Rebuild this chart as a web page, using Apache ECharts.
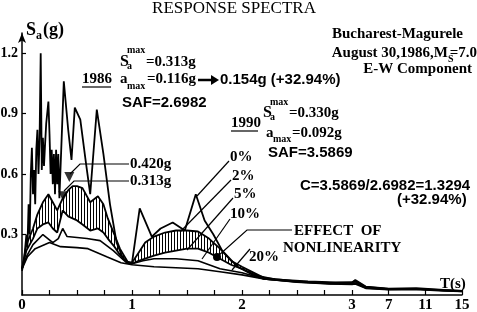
<!DOCTYPE html>
<html>
<head>
<meta charset="utf-8">
<script src="https://cdn.jsdelivr.net/npm/echarts@6/dist/echarts.min.js"></script>
<style>
html, body { margin: 0; padding: 0; background: #fff; }
#chart-container { width: 477px; height: 312px; }
</style>
</head>
<body>
<div id="chart-container"></div>
<script>
// periods T (s) and spectral accelerations Sa (g)
var t0 = [0, 0.02, 0.04, 0.05, 0.06, 0.07, 0.08, 0.09, 0.1, 0.11, 0.12, 0.13, 0.14, 0.15, 0.16, 0.17, 0.18, 0.19, 0.2, 0.21,
  0.22, 0.24, 0.25, 0.26, 0.27, 0.28, 0.29, 0.3, 0.31, 0.32, 0.33, 0.34, 0.38, 0.42, 0.45, 0.48, 0.53, 0.58, 0.62, 0.68,
  0.74, 0.8, 0.86, 0.92, 0.97, 1.0, 1.07, 1.18, 1.26, 1.37, 1.48, 1.58, 1.66, 1.74, 1.82, 1.96, 2.1, 2.3, 2.6, 2.85,
  3.0, 3.36, 4.5, 7, 10, 13, 15];
var sa0 = [0.12, 0.18, 0.3, 0.25, 0.45, 0.3, 0.6, 0.73, 0.5, 0.62, 0.45, 0.72, 0.82, 0.6, 0.78, 1.2, 0.62, 0.78, 0.64, 0.75,
  0.85, 0.96, 0.8, 0.6, 0.72, 0.55, 0.7, 0.5, 0.72, 0.55, 0.7, 0.48, 1.06, 0.82, 0.67, 0.93, 0.87, 0.66, 0.5, 0.92,
  0.7, 0.45, 0.26, 0.18, 0.16, 0.16, 0.43, 0.29, 0.33, 0.36, 0.32, 0.5, 0.37, 0.3, 0.22, 0.14, 0.1, 0.078, 0.068, 0.062,
  0.062, 0.075, 0.042, 0.032, 0.034, 0.025, 0.02];

var tBand = [0, 0.04, 0.1, 0.14, 0.19, 0.24, 0.28, 0.32, 0.37, 0.42, 0.46, 0.5, 0.55, 0.62, 0.69, 0.74, 0.78, 0.84, 0.89, 0.96,
  1.0, 1.06, 1.12, 1.2, 1.3, 1.4, 1.5, 1.6, 1.7, 1.8, 1.9, 2.0, 2.2, 2.5, 2.8, 3.0, 3.36, 4.5, 7, 10, 13, 15];
var sa2 = [0.13, 0.25, 0.33, 0.40, 0.46, 0.50, 0.46, 0.42, 0.48, 0.52, 0.54, 0.54, 0.53, 0.46, 0.49, 0.45, 0.38, 0.30, 0.23, 0.165,
  0.16, 0.21, 0.26, 0.29, 0.31, 0.32, 0.32, 0.315, 0.28, 0.23, 0.17, 0.14, 0.085, 0.068, 0.06, 0.062, 0.07, 0.04, 0.03, 0.03,
  0.024, 0.02];
var sa5 = [0.13, 0.22, 0.28, 0.33, 0.35, 0.36, 0.33, 0.31, 0.42, 0.39, 0.38, 0.37, 0.35, 0.32, 0.33, 0.31, 0.28, 0.24, 0.20, 0.16,
  0.155, 0.17, 0.18, 0.195, 0.21, 0.22, 0.23, 0.23, 0.21, 0.18, 0.15, 0.13, 0.08, 0.066, 0.058, 0.06, 0.066, 0.038, 0.029, 0.029,
  0.023, 0.019];

var t10 = [0, 0.04, 0.1, 0.19, 0.28, 0.33, 0.37, 0.41, 0.5, 0.59, 0.71, 0.83, 0.95, 1.0, 1.1, 1.2, 1.4, 1.6, 1.7, 1.8,
  1.9, 2.0, 2.2, 2.5, 2.8, 3.0, 3.36, 4.5, 7, 10, 13, 15];
var sa10 = [0.13, 0.19, 0.25, 0.30, 0.26, 0.28, 0.33, 0.29, 0.285, 0.28, 0.27, 0.22, 0.16, 0.155, 0.17, 0.18, 0.18, 0.17, 0.15, 0.13,
  0.12, 0.11, 0.08, 0.065, 0.056, 0.055, 0.06, 0.035, 0.028, 0.03, 0.022, 0.018];

var t20 = [0, 0.05, 0.12, 0.25, 0.35, 0.5, 0.6, 0.77, 0.9, 1.0, 1.2, 1.4, 1.6, 1.8, 2.0, 2.2, 2.5, 2.8, 3.0, 3.36,
  4.5, 7, 10, 13, 15];
var sa20 = [0.13, 0.19, 0.23, 0.26, 0.24, 0.235, 0.23, 0.19, 0.16, 0.15, 0.14, 0.135, 0.13, 0.115, 0.1, 0.08, 0.064, 0.055, 0.052, 0.055,
  0.033, 0.026, 0.028, 0.02, 0.017];

var markT = [0.43, 0.375];
var markSa = [0.585, 0.49];

var xLabels = [0, 1, 2, 3, 7, 11, 15];
var xTicks = [0, 0.25, 0.5, 0.75, 1, 1.25, 1.5, 1.75, 2, 2.25, 2.5, 2.75, 3, 7, 11, 15];
var yLabels = [0.3, 0.6, 0.9, 1.2];

// axis is linear up to 3 s, then compressed (12 s over one unit)
function toAxis(t) { return t <= 3 ? t : 3 + (t - 3) / 12; }
function fromAxis(p) { return p <= 3.001 ? Math.round(p) : Math.round(3 + (p - 3) * 12); }
function pairs(ts, vs) { return ts.map(function (t, i) { return [toAxis(t), vs[i]]; }); }

var SERIF = '"Liberation Serif", "Times New Roman", serif';
var SANS = '"Liberation Sans", Arial, sans-serif';
function bs(px) { return 'bold ' + px + 'px ' + SERIF; }
function ba(px) { return 'bold ' + px + 'px ' + SANS; }

// vertical hatching for the band between 2% and 5%
var hatch = document.createElement('canvas');
hatch.width = 3;
hatch.height = 6;
var hc = hatch.getContext('2d');
hc.fillStyle = '#fff';
hc.fillRect(0, 0, 3, 6);
hc.fillStyle = '#000';
hc.fillRect(0, 0, 1, 6);

function txt(x, y, text, font, align) {
  return { type: 'text', x: x, y: y, silent: true, z: 10,
    style: { text: text, font: font, fill: '#000', align: align || 'left', verticalAlign: 'middle' } };
}
function seg(points, w) {
  return { type: 'polyline', silent: true, z: 10, shape: { points: points },
    style: { stroke: '#000', lineWidth: w || 1.2, fill: null } };
}

var graphics = [
  txt(234, 9, 'RESPONSE SPECTRA', 'normal 17px ' + SERIF, 'center'),
  txt(26, 30, 'S', bs(18)),
  txt(36, 36, 'a', bs(12)),
  txt(43, 30, '(g)', bs(18)),

  txt(463, 34, 'Bucharest-Magurele', bs(15), 'right'),
  txt(448, 53, 'August 30,1986,M', bs(15), 'right'),
  txt(448, 59, 'S', bs(10)),
  txt(477, 53, '=7.0', bs(15), 'right'),
  txt(472, 69, 'E-W Component', bs(15), 'right'),

  txt(120, 62, 'S', bs(16)),
  txt(127, 66, 'a', bs(10)),
  txt(127, 50, 'max', bs(10)),
  txt(146, 62, '=0.313g', bs(15)),
  txt(82, 79, '1986', bs(15)),
  seg([[82, 87], [111, 87]], 1.2),
  txt(120, 79, 'a', bs(15)),
  txt(127, 86, 'max', bs(10)),
  txt(147, 79, '=0.116g', bs(15)),
  seg([[198, 80], [212, 80]], 2.5),
  { type: 'polygon', silent: true, z: 10, shape: { points: [[211, 75], [219, 80], [211, 85]] }, style: { fill: '#000' } },
  txt(220, 80, '0.154g (+32.94%)', ba(15)),
  txt(122, 103, 'SAF=2.6982', ba(15)),

  txt(231, 123, '1990', bs(15)),
  seg([[231, 131], [258, 131]], 1.2),
  txt(263, 113, 'S', bs(16)),
  txt(270, 117, 'a', bs(10)),
  txt(270, 102, 'max', bs(10)),
  txt(289, 113, '=0.330g', bs(15)),
  txt(266, 133, 'a', bs(15)),
  txt(273, 139, 'max', bs(10)),
  txt(292, 133, '=0.092g', bs(15)),
  txt(268, 153, 'SAF=3.5869', ba(15)),

  txt(300, 186, 'C=3.5869/2.6982=1.3294', ba(15)),
  txt(397, 200, '(+32.94%)', ba(15)),

  txt(230, 157, '0%', bs(15)),
  seg([[229, 161], [197, 196]]),
  txt(232, 176, '2%', bs(15)),
  seg([[231, 180], [180, 232]]),
  txt(234, 194, '5%', bs(15)),
  seg([[233, 198], [187, 250]]),
  txt(230, 214, '10%', bs(15)),
  seg([[230, 219], [202, 259]]),
  txt(249, 257, '20%', bs(15)),
  seg([[250, 249], [232, 270]]),

  txt(294, 231, 'EFFECT  OF', bs(15)),
  txt(283, 248, 'NONLINEARITY', bs(15)),
  seg([[292, 230], [247, 230], [218, 256]]),
  { type: 'circle', silent: true, z: 10, shape: { cx: 217, cy: 257, r: 4 }, style: { fill: '#000' } },

  txt(130, 164, '0.420g', bs(15)),
  seg([[129, 164], [80, 164], [70, 174]]),
  txt(130, 181, '0.313g', bs(15)),
  seg([[129, 181], [74, 181], [64, 191]]),

  txt(440, 284, 'T(s)', bs(15))
];

var dom = document.getElementById('chart-container');
var myChart = echarts.init(dom, null, { renderer: 'canvas' });

var option = {
  animation: false,
  grid: { left: 22, right: 15, top: 33, bottom: 17, containLabel: false, outerBoundsMode: 'none' },
  xAxis: {
    type: 'value', min: 0, max: 4, z: 8,
    axisLine: { lineStyle: { color: '#000', width: 1.5 } },
    axisTick: { inside: true, length: 5, lineStyle: { color: '#000', width: 1.2 },
      customValues: xTicks.map(toAxis) },
    axisLabel: { customValues: xLabels.map(toAxis), margin: 3, color: '#000',
      fontFamily: SERIF, fontWeight: 'bold', fontSize: 15,
      formatter: function (v) { return String(fromAxis(v)); } },
    splitLine: { show: false }
  },
  yAxis: {
    type: 'value', min: 0, max: 1.3, z: 8,
    axisLine: { lineStyle: { color: '#000', width: 1.5 }, symbol: ['none', 'arrow'], symbolSize: [6, 10] },
    axisTick: { inside: true, length: 4, lineStyle: { color: '#000', width: 1.2 }, customValues: yLabels },
    axisLabel: { customValues: yLabels, margin: 4, color: '#000',
      fontFamily: SERIF, fontWeight: 'bold', fontSize: 14,
      formatter: function (v) { return v.toFixed(1); } },
    splitLine: { show: false }
  },
  series: [
    // hatched area under 2%, then masked in white below 5% -> hatching only between the two
    { name: '2%', type: 'line', symbol: 'none', data: pairs(tBand, sa2),
      lineStyle: { color: '#000', width: 1.8 },
      areaStyle: { color: { image: hatch, repeat: 'repeat' }, opacity: 1 }, z: 2 },
    { name: '5%', type: 'line', symbol: 'none', data: pairs(tBand, sa5),
      lineStyle: { color: '#000', width: 1.8 },
      areaStyle: { color: '#fff', opacity: 1 }, z: 3 },
    { name: '10%', type: 'line', symbol: 'none', data: pairs(t10, sa10),
      lineStyle: { color: '#000', width: 1.6 }, z: 4 },
    { name: '20%', type: 'line', symbol: 'none', data: pairs(t20, sa20),
      lineStyle: { color: '#000', width: 1.6 }, z: 4 },
    { name: '0%', type: 'line', symbol: 'none', data: pairs(t0, sa0),
      lineStyle: { color: '#000', width: 1.8 }, z: 5 },
    { name: 'max', type: 'scatter', symbol: 'triangle', symbolRotate: 180, symbolSize: [10, 10],
      itemStyle: { color: '#000' }, data: pairs(markT, markSa), z: 6 }
  ],
  graphic: graphics
};

myChart.setOption(option);
window.addEventListener('resize', myChart.resize);
</script>
</body>
</html>
